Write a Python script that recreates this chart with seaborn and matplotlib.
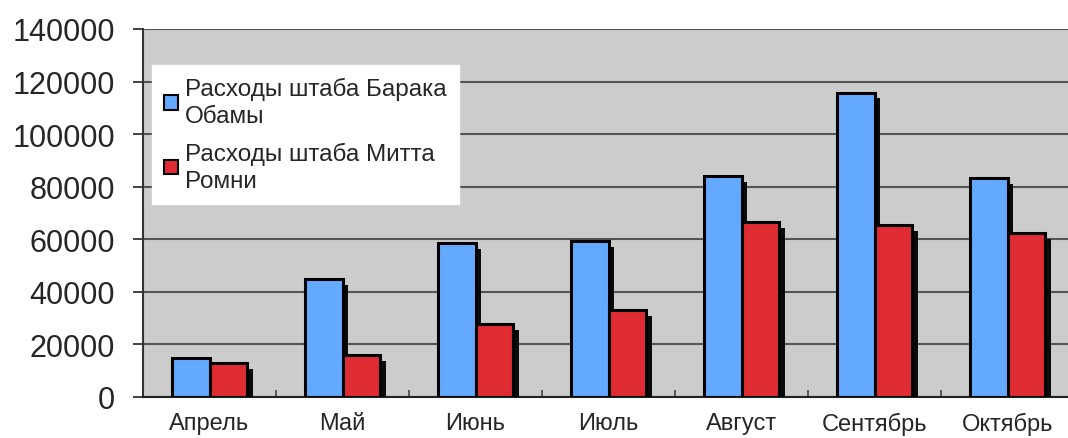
import pandas as pd
import numpy as np
import matplotlib
matplotlib.use("Agg")
import matplotlib.pyplot as plt
import matplotlib.patheffects as pe
from matplotlib.ticker import FixedLocator
import seaborn as sns

# Chart data
months = ["Апрель", "Май", "Июнь", "Июль", "Август", "Сентябрь", "Октябрь"]
obama = [15000, 45000, 58500, 59200, 84000, 115800, 83200]
romney = [12900, 16000, 27700, 33000, 66500, 65300, 62300]
series_names = ["Расходы штаба Барака\nОбамы", "Расходы штаба Митта\nРомни"]
yticks = [0, 20000, 40000, 60000, 80000, 100000, 120000, 140000]

df = pd.DataFrame({
    "month": months * 2,
    "value": obama + romney,
    "series": [series_names[0]] * len(months) + [series_names[1]] * len(months),
})

sns.set_style("white")
plt.rcParams["font.family"] = ["Liberation Sans", "DejaVu Sans"]

fig = plt.figure(figsize=(10.68, 4.39), dpi=100)
ax = fig.add_axes([143 / 1068, 1 - 398 / 439, 931 / 1068, 368 / 439])
ax.set_facecolor("#cccccc")

palette = {series_names[0]: "#63a9ff", series_names[1]: "#de2c32"}
sns.barplot(data=df, x="month", y="value", hue="series", palette=palette,
            width=0.57, edgecolor="black", linewidth=2.2, saturation=1,
            ax=ax, zorder=3)

# drop shadows like the original office chart
for p in ax.patches:
    p.set_path_effects([pe.SimplePatchShadow(offset=(4.2, -4.2),
                                             shadow_rgbFace="black", alpha=0.95),
                        pe.Normal()])

ax.set_ylim(0, 140000)
ax.set_xlim(-0.5, 6.5)
ax.set_yticks(yticks)
ax.set_yticklabels([str(v) for v in yticks])
ax.yaxis.grid(True, color="#555555", linewidth=1.5, zorder=0)
ax.set_axisbelow(True)
ax.set_xlabel("")
ax.set_ylabel("")

ax.tick_params(axis="y", labelsize=22, length=7, width=1.2, pad=13,
               direction="out", left=True, color="#222222")
ax.tick_params(axis="x", which="major", labelsize=17, length=0, pad=11)
ax.xaxis.set_minor_locator(FixedLocator(np.arange(0.5, 6.5, 1)))
ax.tick_params(axis="x", which="minor", direction="in", length=5, width=1.2,
               bottom=True, color="#444444")

for side in ["top", "right"]:
    ax.spines[side].set_visible(False)
ax.spines["left"].set_color("#333333")
ax.spines["left"].set_linewidth(1.5)
ax.spines["bottom"].set_color("#222222")
ax.spines["bottom"].set_linewidth(1.5)

leg = ax.legend(loc="upper left", bbox_to_anchor=(9 / 931, 1 - 36 / 368),
                fontsize=17.5, frameon=True, fancybox=False, framealpha=1,
                edgecolor="white", facecolor="white", handlelength=0.55,
                handleheight=0.55, handletextpad=0.3, labelspacing=0.6,
                borderpad=0.5, borderaxespad=0)
for t in leg.get_texts():
    t.set_linespacing(1.3)
for h in leg.legend_handles:
    h.set_path_effects([])
    h.set_linewidth(1.5)

fig.savefig("out.png", dpi=100)
